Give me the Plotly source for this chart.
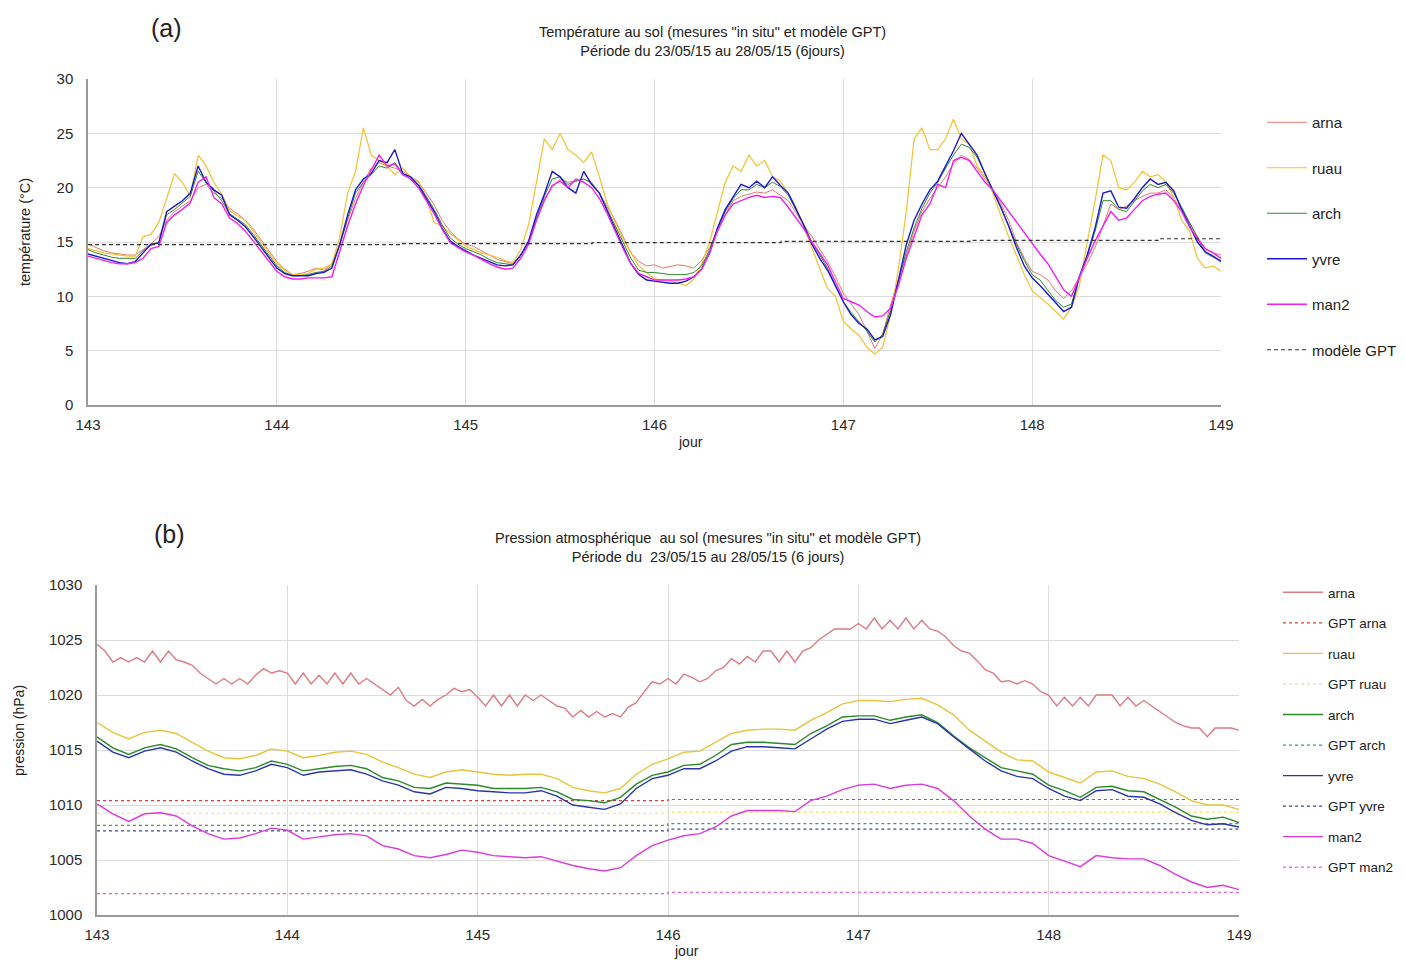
import plotly.graph_objects as go

# time grids (hours counted from day 143, 00:00)
hours_1h = list(range(0, 145))
hours_2h = list(range(0, 145, 2))
day_1h = [143 + h / 24 for h in hours_1h]
day_2h = [143 + h / 24 for h in hours_2h]

stations = ["arna", "ruau", "arch", "yvre", "man2"]

# ---- (a) ground temperature, degC, hourly (one row = one day)
temp_arna = [14.8, 14.5, 14.2, 14.0, 13.9, 13.8, 13.8, 14.3, 14.8, 15.5, 17.0, 17.8, 18.3, 18.8, 20.0, 20.3, 19.5, 19.0, 18.1, 17.6, 17.0, 16.2, 15.2, 14.2,
             13.2, 12.5, 12.0, 12.1, 12.3, 12.6, 12.4, 13.0, 14.8, 17.0, 19.0, 20.5, 21.8, 22.3, 22.0, 21.8, 21.5, 21.0, 20.5, 19.5, 18.4, 17.0, 16.0, 15.3,
             14.8, 14.6, 14.2, 13.8, 13.4, 13.2, 13.0, 13.8, 15.0, 17.0, 19.0, 20.0, 20.8, 20.5, 20.6, 20.8, 20.5, 19.5, 18.3, 17.0, 15.5, 14.0, 13.2, 12.8,
             12.9, 12.6, 12.75, 12.9, 12.8, 12.6, 13.3, 14.5, 16.0, 17.5, 18.8, 19.2, 19.4, 19.6, 19.5, 19.8, 19.3, 18.8, 17.7, 16.5, 15.5, 14.3, 13.2, 11.8,
             10.3, 9.3, 8.3, 6.8, 5.2, 6.5, 9.2, 11.5, 13.8, 16.0, 17.8, 19.0, 20.0, 21.0, 22.2, 23.0, 22.6, 21.8, 20.8, 19.8, 18.6, 17.0, 15.0, 13.5,
             12.3, 12.0, 11.5, 10.5, 9.8, 10.5, 11.8, 13.0, 14.5, 16.5, 18.5, 18.0, 18.3, 18.8, 19.2, 19.5, 19.5, 19.8, 19.0, 18.0, 16.8, 15.5, 14.3, 14.0,
             13.8]
temp_ruau = [14.4, 14.2, 14.0, 13.9, 13.8, 13.7, 13.7, 15.5, 15.7, 16.8, 19.0, 21.3, 20.5, 19.2, 23.0, 22.0, 20.5, 19.4, 17.9, 17.4, 17.0, 16.0, 15.0, 14.0,
             13.0, 12.4, 12.0, 12.0, 12.1, 12.5, 12.6, 13.0, 15.5, 19.5, 21.5, 25.5, 23.0, 22.5, 22.0, 21.2, 21.8, 21.0, 20.6, 19.0, 16.8, 16.5, 15.8, 15.2,
             14.6, 14.3, 14.0, 13.8, 13.6, 13.3, 13.1, 14.3, 16.6, 20.5, 24.5, 23.5, 25.0, 23.5, 23.0, 22.3, 23.3, 21.0, 18.5, 16.8, 15.3, 14.0, 12.8, 12.2,
             11.6, 11.5, 11.4, 11.2, 11.0, 11.6, 13.0, 15.0, 17.8, 20.5, 22.0, 21.5, 23.0, 22.0, 22.5, 21.0, 20.6, 19.5, 18.2, 16.3, 14.5, 12.5, 10.7, 10.0,
             7.7, 7.0, 6.4, 5.3, 4.7, 5.3, 8.3, 12.5, 17.8, 24.5, 25.5, 23.5, 23.5, 24.5, 26.3, 24.5, 24.0, 22.0, 21.0, 19.5, 17.5, 15.5, 13.8, 12.0,
             10.5, 9.9, 9.3, 8.6, 7.9, 9.0, 11.0, 15.0, 18.8, 23.0, 22.5, 20.0, 19.8, 20.5, 21.5, 21.0, 21.2, 20.5, 19.1, 17.0, 16.0, 13.5, 12.6, 12.8,
             12.3]
temp_arch = [14.3, 14.0, 13.8, 13.6, 13.5, 13.5, 13.5, 14.2, 14.7, 15.0, 17.5, 18.0, 18.6, 19.2, 21.5, 20.5, 19.7, 18.8, 17.6, 17.1, 16.6, 15.7, 14.7, 13.7,
             12.8, 12.2, 11.9, 11.9, 12.0, 12.2, 12.3, 12.8, 14.7, 17.2, 19.5, 20.5, 21.2, 22.0, 21.8, 22.3, 21.3, 20.8, 20.3, 19.2, 18.0, 16.6, 15.4, 14.8,
             14.4, 14.1, 13.8, 13.4, 13.1, 13.0, 12.9, 13.8, 15.0, 17.2, 19.2, 20.8, 21.0, 20.3, 20.6, 20.8, 20.4, 19.5, 18.0, 16.5, 14.9, 13.5, 12.4, 12.2,
             12.2, 12.1, 12.0, 12.0, 12.0, 12.2, 12.8, 14.3, 16.2, 17.8, 19.0, 19.8, 19.8, 20.3, 20.0, 20.5, 20.1, 19.3, 18.0, 16.6, 15.0, 13.8, 12.6, 11.0,
             9.5, 8.5, 7.7, 6.8, 5.8, 6.5, 8.7, 11.5, 14.1, 16.3, 18.1, 19.5, 20.5, 21.8, 23.0, 24.0, 23.7, 22.8, 21.3, 19.8, 18.3, 16.5, 14.8, 13.3,
             12.0, 11.5, 10.6, 9.6, 9.0, 9.3, 11.8, 13.7, 16.0, 18.8, 18.8, 18.0, 17.8, 18.8, 19.7, 20.3, 20.0, 20.3, 19.5, 18.2, 16.8, 15.3, 14.0, 13.6,
             13.3]
temp_yvre = [13.9, 13.7, 13.5, 13.3, 13.1, 13.0, 13.2, 14.0, 14.8, 14.9, 17.8, 18.3, 18.8, 19.5, 22.0, 20.5, 19.8, 19.3, 17.5, 17.0, 16.4, 15.5, 14.5, 13.5,
             12.6, 12.1, 11.9, 11.9, 11.9, 12.1, 12.2, 12.6, 14.8, 17.5, 19.8, 20.8, 21.3, 22.5, 22.3, 23.5, 21.3, 21.0, 20.2, 19.0, 17.8, 16.3, 15.1, 14.6,
             14.2, 13.8, 13.5, 13.2, 12.9, 12.8, 12.9, 13.8, 15.1, 17.5, 19.4, 21.5, 21.0, 20.0, 19.5, 21.5, 20.3, 19.5, 17.8, 16.2, 14.6, 13.0, 12.0, 11.5,
             11.4, 11.3, 11.2, 11.2, 11.4, 11.8, 12.5, 14.0, 16.3, 18.0, 19.1, 20.3, 20.0, 20.6, 20.0, 21.0, 20.2, 19.5, 18.0, 16.5, 14.8, 13.5, 12.4, 11.0,
             9.5, 8.3, 7.5, 7.0, 6.0, 6.3, 8.3, 11.5, 14.75, 17.0, 18.5, 19.8, 20.6, 22.0, 23.4, 25.0, 24.0, 23.0, 21.3, 19.8, 18.2, 16.5, 14.5, 12.8,
             11.7, 11.0, 10.2, 9.3, 8.6, 9.0, 11.8, 13.8, 16.3, 19.5, 19.7, 18.2, 18.1, 19.0, 20.0, 20.8, 20.3, 20.5, 19.7, 18.0, 16.5, 15.0, 14.1, 13.7,
             13.2]
temp_man2 = [13.7, 13.5, 13.3, 13.1, 13.0, 13.0, 13.1, 13.5, 14.4, 14.6, 16.8, 17.5, 18.0, 18.6, 20.5, 21.0, 19.1, 18.5, 17.2, 16.7, 16.0, 15.1, 14.2, 13.2,
             12.3, 11.8, 11.6, 11.6, 11.7, 11.7, 11.7, 11.8, 14.2, 16.5, 18.5, 20.2, 21.6, 23.0, 22.0, 22.2, 21.2, 20.8, 20.0, 18.8, 17.6, 16.2, 15.0, 14.5,
             14.1, 13.8, 13.4, 13.0, 12.7, 12.5, 12.6, 13.5, 14.8, 17.0, 18.8, 20.2, 20.6, 20.0, 20.8, 20.5, 20.0, 19.0, 17.6, 16.0, 14.4, 13.0, 12.1, 11.8,
             11.5, 11.5, 11.5, 11.5, 11.6, 11.8, 12.5, 14.0, 16.0, 17.5, 18.5, 18.8, 19.1, 19.3, 19.1, 19.2, 19.1, 18.2, 17.2, 16.2, 15.0, 13.9, 12.9, 11.3,
             9.8, 9.5, 9.2, 8.6, 8.1, 8.2, 8.9, 11.0, 13.5, 15.5, 17.5, 18.5, 20.3, 20.0, 22.5, 22.8, 22.5, 21.5, 20.5, 19.8, 18.8, 17.8, 16.8, 15.8,
             14.8, 13.9, 13.0, 11.8, 10.6, 10.0, 11.8, 13.5, 15.1, 16.5, 17.8, 17.0, 17.2, 18.0, 18.8, 19.2, 19.4, 19.5, 18.8, 17.8, 16.4, 15.3, 14.4, 14.0,
             13.5]
gpt_temp_days = [143, 144.66, 145.67, 146.67, 147.67, 148.67, 149]
gpt_temp = [14.75, 14.85, 14.95, 15.05, 15.15, 15.3, 15.3]

# ---- (b) ground pressure, hPa (arna hourly, the others every 2 h)
pres_arna = [1024.6, 1024.0, 1023.0, 1023.4, 1023.0, 1023.4, 1023.0, 1024.0, 1023.0, 1024.0, 1023.2, 1023.0,
             1022.7, 1022.0, 1021.5, 1021.0, 1021.5, 1021.0, 1021.5, 1021.0, 1021.8, 1022.4, 1022.0, 1022.2,
             1022.0, 1021.0, 1022.0, 1021.0, 1021.8, 1021.0, 1022.0, 1021.0, 1022.0, 1021.0, 1021.5, 1021.0,
             1020.5, 1020.0, 1020.7, 1019.5, 1019.0, 1019.6, 1019.0, 1019.6, 1020.0, 1020.6, 1020.3, 1020.5,
             1019.8, 1019.0, 1020.0, 1019.0, 1020.0, 1019.0, 1020.0, 1019.5, 1020.0, 1019.5, 1019.0, 1018.8,
             1018.0, 1018.6, 1018.0, 1018.5, 1018.0, 1018.3, 1018.0, 1018.9, 1019.3, 1020.3, 1021.2, 1021.0,
             1021.5, 1021.0, 1021.9, 1021.6, 1021.2, 1021.5, 1022.2, 1022.5, 1023.3, 1022.8, 1023.5, 1023.0,
             1024.0, 1024.0, 1023.0, 1024.0, 1023.0, 1024.0, 1024.3, 1025.0, 1025.5, 1026.0, 1026.0, 1026.0,
             1026.5, 1026.0, 1027.0, 1026.0, 1026.8, 1026.0, 1027.0, 1026.0, 1026.8, 1026.0, 1025.8, 1025.3,
             1024.5, 1024.0, 1023.8, 1023.1, 1022.3, 1022.0, 1021.2, 1021.3, 1021.0, 1021.3, 1021.0, 1020.3,
             1020.0, 1019.0, 1019.8, 1019.0, 1019.8, 1019.0, 1020.0, 1020.0, 1020.0, 1019.0, 1019.8, 1019.0,
             1019.5, 1019.0, 1018.5, 1018.0, 1017.5, 1017.2, 1017.0, 1017.0, 1016.2, 1017.0, 1017.0, 1017.0,
             1016.8]
pres_ruau = [1017.5, 1016.6, 1016.0, 1016.6, 1016.8, 1016.5, 1015.7, 1014.9, 1014.3, 1014.2, 1014.5, 1015.1,
             1014.9, 1014.3, 1014.5, 1014.8, 1014.9, 1014.6, 1013.9, 1013.4, 1012.8, 1012.5, 1013.0, 1013.2,
             1013.0, 1012.8, 1012.7, 1012.8, 1012.8, 1012.4, 1011.6, 1011.3, 1011.1, 1011.5, 1012.8, 1013.7,
             1014.2, 1014.8, 1014.9, 1015.7, 1016.5, 1016.8, 1016.9, 1016.9, 1016.8, 1017.7, 1018.4, 1019.2,
             1019.5, 1019.5, 1019.4, 1019.6, 1019.7, 1019.1, 1018.2, 1016.8, 1015.8, 1014.8, 1014.1, 1014.0,
             1013.0, 1012.5, 1012.0, 1013.0, 1013.1, 1012.6, 1012.4, 1011.9, 1011.2, 1010.4, 1010.0, 1010.0,
             1009.6]
pres_arch = [1016.2, 1015.2, 1014.6, 1015.2, 1015.5, 1015.1, 1014.3, 1013.6, 1013.3, 1013.1, 1013.4, 1014.0,
             1013.7, 1013.1, 1013.3, 1013.5, 1013.6, 1013.3, 1012.5, 1012.2, 1011.6, 1011.5, 1012.0, 1011.9,
             1011.8, 1011.5, 1011.5, 1011.5, 1011.6, 1011.2, 1010.5, 1010.4, 1010.2, 1010.7, 1011.9, 1012.7,
             1013.0, 1013.6, 1013.7, 1014.5, 1015.5, 1015.7, 1015.7, 1015.6, 1015.5, 1016.5, 1017.2, 1018.0,
             1018.1, 1018.1, 1017.7, 1018.0, 1018.2, 1017.5, 1016.3, 1015.2, 1014.3, 1013.4, 1013.1, 1012.8,
             1011.8, 1011.3, 1010.7, 1011.6, 1011.7, 1011.3, 1011.2, 1010.5, 1009.8, 1009.0, 1008.7, 1008.9,
             1008.4]
pres_yvre = [1015.8, 1014.8, 1014.3, 1014.9, 1015.2, 1014.8, 1014.0, 1013.3, 1012.8, 1012.7, 1013.1, 1013.7,
             1013.4, 1012.7, 1013.0, 1013.1, 1013.2, 1012.8, 1012.2, 1011.8, 1011.2, 1011.0, 1011.6, 1011.5,
             1011.3, 1011.2, 1011.1, 1011.1, 1011.3, 1010.8, 1010.0, 1009.8, 1009.6, 1010.1, 1011.5, 1012.4,
             1012.7, 1013.3, 1013.3, 1014.0, 1014.9, 1015.3, 1015.3, 1015.2, 1015.1, 1016.0, 1016.9, 1017.6,
             1017.8, 1017.8, 1017.4, 1017.7, 1018.0, 1017.4, 1016.2, 1015.1, 1014.0, 1013.1, 1012.6, 1012.4,
             1011.5, 1010.8, 1010.4, 1011.3, 1011.4, 1010.8, 1010.7, 1010.1, 1009.3, 1008.6, 1008.2, 1008.3,
             1008.0]
pres_man2 = [1010.1, 1009.2, 1008.5, 1009.2, 1009.3, 1009.0, 1008.1, 1007.4, 1006.9, 1007.0, 1007.4, 1007.9,
             1007.7, 1006.9, 1007.1, 1007.3, 1007.4, 1007.2, 1006.3, 1006.0, 1005.4, 1005.2, 1005.5, 1005.9,
             1005.7, 1005.4, 1005.3, 1005.2, 1005.3, 1004.9, 1004.5, 1004.2, 1004.0, 1004.3, 1005.4, 1006.3,
             1006.8, 1007.2, 1007.4, 1008.0, 1009.0, 1009.5, 1009.5, 1009.5, 1009.4, 1010.4, 1010.8, 1011.4,
             1011.8, 1011.9, 1011.5, 1011.8, 1011.9, 1011.5, 1010.4, 1009.0, 1007.8, 1006.9, 1006.9, 1006.5,
             1005.4, 1004.9, 1004.4, 1005.4, 1005.2, 1005.1, 1005.1, 1004.5, 1003.7, 1003.0, 1002.5, 1002.7,
             1002.3]
gpt_pres_days = [143, 146, 149]
gpt_pres_arna = [1010.4, 1010.5, 1010.5]
gpt_pres_ruau = [1009.25, 1009.35, 1009.35]
gpt_pres_arch = [1008.15, 1008.3, 1008.3]
gpt_pres_yvre = [1007.65, 1007.8, 1007.8]
gpt_pres_man2 = [1001.95, 1002.05, 1002.05]

day_ticks = [143, 144, 145, 146, 147, 148, 149]

temp_colors = {"arna": "#E8776E", "ruau": "#F2C230", "arch": "#2E8B2E", "yvre": "#1A1ACC", "man2": "#F020F0"}
pres_colors = {"arna": "#DC7C84", "ruau": "#E6C43C", "arch": "#2A8A2A", "yvre": "#2A36A8", "man2": "#D93CD9"}
gpt_colors = {"arna": "#D84040", "ruau": "#F0E070", "arch": "#3C9C78", "yvre": "#3848A8", "man2": "#D468D4"}

FONT = "Liberation Sans Narrow, Arial Narrow, Liberation Sans, Arial, sans-serif"
W, H = 1405, 960
OFF = 8  # page body margin in the browser

fig = go.Figure()

temps = [temp_arna, temp_ruau, temp_arch, temp_yvre, temp_man2]
widths_t = [1, 1.2, 1, 1.4, 1.4]
for name, vals, w in zip(stations, temps, widths_t):
    fig.add_trace(go.Scatter(
        x=day_1h, y=vals, mode="lines", name=name, legendgroup=name,
        line=dict(color=temp_colors[name], width=w),
        xaxis="x", yaxis="y", legend="legend",
    ))
fig.add_trace(go.Scatter(
    x=gpt_temp_days, y=gpt_temp, mode="lines", name="modèle GPT", legendgroup="gpt",
    line=dict(color="#333333", width=1.2, dash="4px,3px", shape="hv"),
    xaxis="x", yaxis="y", legend="legend",
))

pres = {"arna": (day_1h, pres_arna), "ruau": (day_2h, pres_ruau), "arch": (day_2h, pres_arch),
        "yvre": (day_2h, pres_yvre), "man2": (day_2h, pres_man2)}
gpts = {"arna": gpt_pres_arna, "ruau": gpt_pres_ruau, "arch": gpt_pres_arch,
        "yvre": gpt_pres_yvre, "man2": gpt_pres_man2}
for name in stations:
    xs, ys = pres[name]
    fig.add_trace(go.Scatter(
        x=xs, y=ys, mode="lines", name=name, legendgroup="p_" + name,
        line=dict(color=pres_colors[name], width=1.4),
        xaxis="x2", yaxis="y2", legend="legend2",
    ))
    fig.add_trace(go.Scatter(
        x=gpt_pres_days, y=gpts[name], mode="lines", name="GPT " + name, legendgroup="g_" + name,
        line=dict(color=gpt_colors[name], width=1.2, dash="3px,3px", shape="hv"),
        xaxis="x2", yaxis="y2", legend="legend2",
    ))


# screen pixel -> paper fraction
def px_x(v):
    return (v - OFF) / W


def px_y(v):
    return 1 - (v - OFF) / H


axis_common = dict(
    showgrid=True, gridcolor="#dcdcdc", gridwidth=1,
    showline=True, linecolor="#9a9a9a", linewidth=1.5,
    zeroline=False, ticks="",
    tickfont=dict(family=FONT, size=15, color="#2a2a2a"),
)

fig.update_layout(
    width=W, height=H,
    margin=dict(l=0, r=0, t=0, b=0, autoexpand=False),
    paper_bgcolor="white", plot_bgcolor="white",
    font=dict(family=FONT, color="#222222"),
    xaxis=dict(domain=[px_x(88), px_x(1221)], range=[143, 149], tickvals=day_ticks,
               anchor="y", ticklabelstandoff=5, **axis_common),
    yaxis=dict(domain=[px_y(405), px_y(79)], range=[0, 30], dtick=5,
               anchor="x", ticklabelstandoff=10, **axis_common),
    xaxis2=dict(domain=[px_x(97), px_x(1239)], range=[143, 149], tickvals=day_ticks,
                anchor="y2", ticklabelstandoff=5, **axis_common),
    yaxis2=dict(domain=[px_y(915), px_y(585)], range=[1000, 1030], dtick=5,
                anchor="x2", ticklabelstandoff=10, **axis_common),
    legend=dict(x=px_x(1262), y=px_y(106), xanchor="left", yanchor="top",
                font=dict(family=FONT, size=15, color="#222222"),
                tracegroupgap=23, itemwidth=40, bgcolor="rgba(0,0,0,0)"),
    legend2=dict(x=px_x(1278), y=px_y(577), xanchor="left", yanchor="top",
                 font=dict(family=FONT, size=13.5, color="#222222"),
                 tracegroupgap=10, itemwidth=40, bgcolor="rgba(0,0,0,0)"),
    showlegend=True,
)

annotations = [
    dict(text="(a)", x=px_x(166), y=px_y(28), font=dict(size=25)),
    dict(text="(b)", x=px_x(169), y=px_y(534), font=dict(size=25)),
    dict(text='Température au sol (mesures "in situ" et modèle GPT)<br>Période du 23/05/15 au 28/05/15 (6jours)',
         x=px_x(712), y=px_y(41), font=dict(size=14.5)),
    dict(text='Pression atmosphérique  au sol (mesures "in situ" et modèle GPT)<br>Période du  23/05/15 au 28/05/15 (6 jours)',
         x=px_x(708), y=px_y(547), font=dict(size=14.5)),
    dict(text="jour", x=px_x(690), y=px_y(442), font=dict(size=14)),
    dict(text="jour", x=px_x(686), y=px_y(951), font=dict(size=14)),
    dict(text="température (°C)", x=px_x(25), y=px_y(232), textangle=-90, font=dict(size=14.5)),
    dict(text="pression (hPa)", x=px_x(19), y=px_y(731), textangle=-90, font=dict(size=14)),
]
for a in annotations:
    a.update(xref="paper", yref="paper", showarrow=False, xanchor="center", yanchor="middle")
    a["font"] = dict(family=FONT, color="#222222", **a["font"])
fig.update_layout(annotations=annotations)

fig.write_html("out.html")
